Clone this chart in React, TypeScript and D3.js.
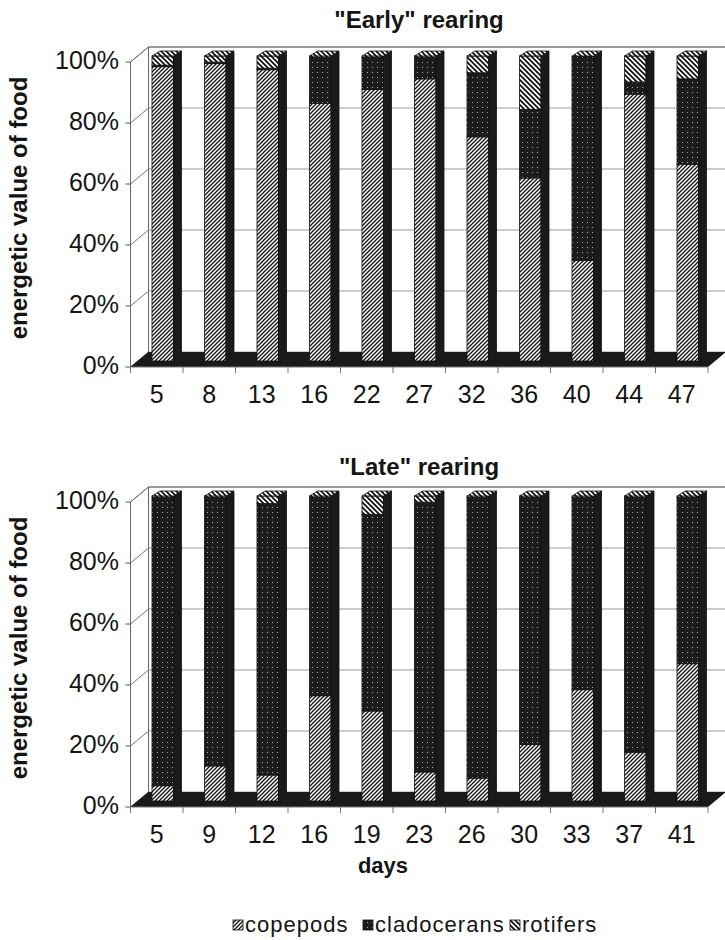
import React from "react";
import * as d3 from "d3";

// food composition (% of energetic value)
const seriesKeys = ["copepods", "cladocerans", "rotifers"];

const earlyDays = ["5", "8", "13", "16", "22", "27", "32", "36", "40", "44", "47"];
const earlyCopepods = [96.5, 97.5, 95.5, 84.5, 89, 92.5, 73.5, 60, 33, 87.5, 64.5];
const earlyCladocerans = [0.5, 0.5, 0.5, 15, 10.5, 7, 21, 22.5, 66.7, 4, 28];
const earlyRotifers = [3, 2, 4, 0.5, 0.5, 0.5, 5.5, 17.5, 0.3, 8.5, 7.5];

const lateDays = ["5", "9", "12", "16", "19", "23", "26", "30", "33", "37", "41"];
const lateCopepods = [5, 11.5, 8.5, 34.5, 29.5, 9.5, 7.5, 18.5, 36.5, 16, 45];
const lateCladocerans = [94.5, 88, 89, 65, 64.5, 88.5, 92, 81, 63, 83.5, 54.5];
const lateRotifers = [0.5, 0.5, 2.5, 0.5, 6, 2, 0.5, 0.5, 0.5, 0.5, 0.5];

const yTicks = [0, 20, 40, 60, 80, 100];

const FONT = "'Liberation Sans', Arial, Helvetica, sans-serif";
const DARK = "#1a1a1a";
const INK = "#151515";

// 3d look
const X0 = 130.5;
const X1 = 708;
const DEPTH_X = 18;
const DEPTH_Y = 15;
const BAR_DX = 6;
const BAR_DY = 6;
const BAR_SIDE_X = 8;
const BAR_SIDE_Y = 5;
const PLOT_H = 305;

const fills: Record<string, string> = {
  copepods: "url(#pat-cope)",
  cladocerans: "url(#pat-clad)",
  rotifers: "url(#pat-rot)",
};

type PanelProps = {
  title: string;
  titleY: number;
  top: number;
  days: string[];
  cope: number[];
  clad: number[];
  rot: number[];
  showDays?: boolean;
};

const Panel = ({ title, titleY, top, days, cope, clad, rot, showDays }: PanelProps) => {
  const x = d3.scaleBand<string>().domain(days).range([X0, X1]);
  const y = d3.scaleLinear().domain([0, 100]).range([top + PLOT_H, top]);
  const bw = x.bandwidth();
  const barW = bw * 0.41;

  const rows = days.map((d, i) => ({
    day: d,
    copepods: cope[i],
    cladocerans: clad[i],
    rotifers: rot[i],
  }));
  const stacked = d3.stack<any>().keys(seriesKeys)(rows);

  const backL = X0 + DEPTH_X;
  const backR = X1 + DEPTH_X;
  const y0 = y(0);

  const floor = [
    [X0, y0],
    [X1, y0],
    [backR, y0 - DEPTH_Y],
    [backL, y0 - DEPTH_Y],
  ];

  return (
    <g>
      <text
        x={419}
        y={titleY}
        textAnchor="middle"
        fontFamily={FONT}
        fontWeight="bold"
        fontSize={24}
        fill={INK}
      >
        {title}
      </text>
      <text
        transform={`translate(27,${top + 146}) rotate(-90)`}
        textAnchor="middle"
        fontFamily={FONT}
        fontWeight="bold"
        fontSize={24}
        fill={INK}
      >
        energetic value of food
      </text>

      {/* back wall */}
      <rect x={backL} y={y(100) - DEPTH_Y} width={backR - backL} height={PLOT_H} fill="#fff" />
      {/* left wall */}
      <polygon
        points={`${X0},${y(100)} ${backL},${y(100) - DEPTH_Y} ${backL},${y0 - DEPTH_Y} ${X0},${y0}`}
        fill="#fff"
        stroke="#666"
        strokeWidth={1}
      />
      {yTicks.map((t) => (
        <g key={t}>
          <line
            x1={backL}
            x2={backR}
            y1={y(t) - DEPTH_Y}
            y2={y(t) - DEPTH_Y}
            stroke={t === 100 ? "#777" : "#999"}
            strokeWidth={t === 100 ? 1.5 : 1}
          />
          <line x1={X0} x2={backL} y1={y(t)} y2={y(t) - DEPTH_Y} stroke="#777" strokeWidth={1} />
          <line x1={X0 - 5} x2={X0} y1={y(t)} y2={y(t)} stroke="#555" strokeWidth={1} />
          <text
            x={119}
            y={y(t) + 7}
            textAnchor="end"
            fontFamily={FONT}
            fontSize={25}
            fill={INK}
          >
            {t}%
          </text>
        </g>
      ))}

      {/* floor */}
      <polygon points={floor.map((p) => p.join(",")).join(" ")} fill={DARK} />
      <line x1={X0} x2={X1} y1={y0} y2={y0} stroke="#777" strokeWidth={1} />
      {[...days.map((d) => x(d) as number), X1].map((tx, i) => (
        <line key={i} x1={tx} x2={tx} y1={y0} y2={y0 + 6} stroke="#777" strokeWidth={1} />
      ))}

      {/* bars */}
      {rows.map((r, i) => {
        const xl = (x(r.day) as number) + (bw - barW) / 2 + BAR_DX;
        const xr = xl + barW;
        const yBot = y(0) - BAR_DY;
        const yTop = y(stacked[2][i][1]) - BAR_DY;
        return (
          <g key={r.day}>
            {stacked.map((s) => {
              const seg = s[i];
              const ya = y(seg[1]) - BAR_DY;
              const yb = y(seg[0]) - BAR_DY;
              if (yb - ya <= 0) return null;
              return (
                <rect
                  key={s.key}
                  x={xl}
                  y={ya}
                  width={barW}
                  height={yb - ya}
                  fill={fills[s.key]}
                  stroke="#111"
                  strokeWidth={0.8}
                />
              );
            })}
            <polygon
              points={`${xr},${yTop} ${xr + BAR_SIDE_X},${yTop - BAR_SIDE_Y} ${xr + BAR_SIDE_X},${yBot - BAR_SIDE_Y} ${xr},${yBot}`}
              fill={DARK}
              stroke="#111"
              strokeWidth={0.8}
            />
            <polygon
              points={`${xl},${yTop} ${xl + BAR_SIDE_X},${yTop - BAR_SIDE_Y} ${xr + BAR_SIDE_X},${yTop - BAR_SIDE_Y} ${xr},${yTop}`}
              fill={fills.rotifers}
              stroke="#111"
              strokeWidth={0.8}
            />
          </g>
        );
      })}

      {days.map((d) => (
        <text
          key={d}
          x={(x(d) as number) + bw / 2}
          y={y0 + 36}
          textAnchor="middle"
          fontFamily={FONT}
          fontSize={25}
          fill={INK}
        >
          {d}
        </text>
      ))}

      {showDays && (
        <text
          x={383}
          y={873}
          textAnchor="middle"
          fontFamily={FONT}
          fontWeight="bold"
          fontSize={22}
          fill={INK}
        >
          days
        </text>
      )}
    </g>
  );
};

const legendItems = [
  { key: "copepods", x: 233 },
  { key: "cladocerans", x: 363 },
  { key: "rotifers", x: 510 },
];

const App = () => {
  return (
    <svg width={725} height={940} style={{ position: "absolute", left: 0, top: 0, background: "#fff" }}>
      <defs>
        <pattern id="pat-cope" patternUnits="userSpaceOnUse" width={4} height={4}>
          <rect width={4} height={4} fill="#fff" />
          <path d="M-1,1 L1,-1 M0,4 L4,0 M3,5 L5,3" stroke="#111" strokeWidth={1.3} />
        </pattern>
        <pattern id="pat-rot" patternUnits="userSpaceOnUse" width={5} height={5}>
          <rect width={5} height={5} fill="#fff" />
          <path d="M-1,4 L1,6 M0,0 L5,5 M4,-1 L6,1" stroke="#111" strokeWidth={1.8} />
        </pattern>
        <pattern id="pat-clad" patternUnits="userSpaceOnUse" width={5} height={5}>
          <rect width={5} height={5} fill="#1c1c1c" />
          <rect x={2} y={2} width={1} height={1} fill="#aaa" />
        </pattern>
      </defs>

      <Panel
        title={'"Early" rearing'}
        titleY={28}
        top={62}
        days={earlyDays}
        cope={earlyCopepods}
        clad={earlyCladocerans}
        rot={earlyRotifers}
      />
      <Panel
        title={'"Late" rearing'}
        titleY={475}
        top={502}
        days={lateDays}
        cope={lateCopepods}
        clad={lateCladocerans}
        rot={lateRotifers}
        showDays
      />

      {legendItems.map((it) => (
        <g key={it.key}>
          <rect x={it.x} y={920} width={10} height={10} fill={fills[it.key]} stroke="#111" strokeWidth={0.8} />
          <text
            x={it.x + 12}
            y={932}
            fontFamily={FONT}
            fontSize={22}
            letterSpacing={1}
            fill={INK}
          >
            {it.key}
          </text>
        </g>
      ))}
    </svg>
  );
};

export default App;
